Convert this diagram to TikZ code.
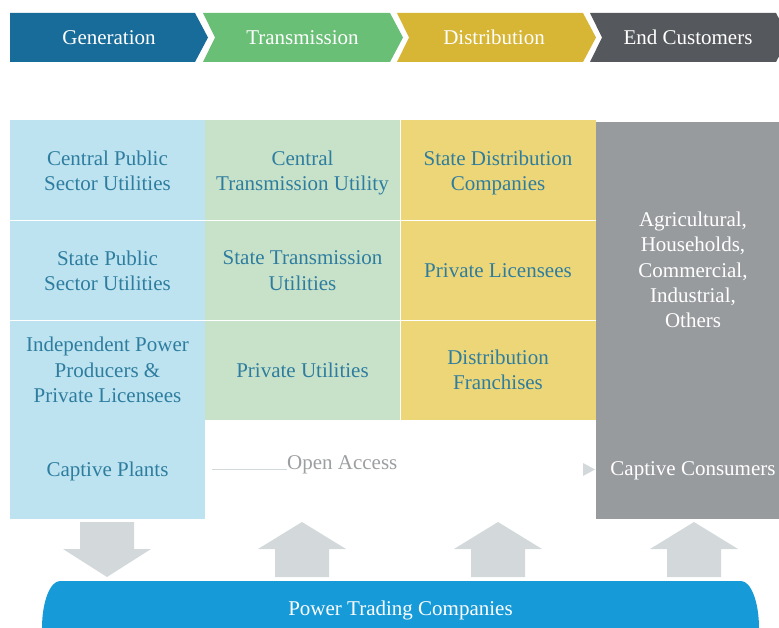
\documentclass[tikz,border=0pt]{standalone}
\usepackage{fontspec}
\setmainfont{Liberation Serif}
\definecolor{genblue}{HTML}{186C9A}
\definecolor{transgreen}{HTML}{6ABF76}
\definecolor{distyellow}{HTML}{D7B535}
\definecolor{endgray}{HTML}{55585C}
\definecolor{cellblue}{HTML}{BDE3F0}
\definecolor{cellgreen}{HTML}{C8E2CA}
\definecolor{cellyellow}{HTML}{EDD677}
\definecolor{cellgray}{HTML}{989B9E}
\definecolor{celltext}{HTML}{2E7D9F}
\definecolor{arrowgray}{HTML}{D3D9DA}
\definecolor{barblue}{HTML}{169BD8}
\definecolor{oagray}{HTML}{9C9FA1}
\tikzset{
  txt/.style={inner sep=0pt, align=center, text depth=0pt, font=\fontsize{21}{25.3}\selectfont},
  head/.style={txt, text=white},
  cell/.style={txt, text=celltext, minimum width=195pt, minimum height=100pt},
  sepline/.style={draw=white, line width=1pt},
  bigarrow/.style={fill=arrowgray},
}
\begin{document}
\begin{tikzpicture}[x=1pt,y=-1pt]
  \useasboundingbox (0,0) rectangle (779,628);

  %Header
  \fill[genblue] (10,13) -- (195,13) -- (208,37.5) -- (195,62) -- (10,62) -- cycle;
  \fill[transgreen] (203,13) -- (390,13) -- (403,37.5) -- (390,62) -- (203,62) -- (215,37.5) -- cycle;
  \fill[distyellow] (397,13) -- (583,13) -- (596,37.5) -- (583,62) -- (397,62) -- (409,37.5) -- cycle;
  \fill[endgray] (590,13) -- (776,13) -- (789,37.5) -- (776,62) -- (590,62) -- (602,37.5) -- cycle;
  \node[head] at (109,37.5)   (gen)   {Generation};
  \node[head] at (302.5,37.5) (trans) {Transmission};
  \node[head] at (494,37.5)   (dist)  {Distribution};
  \node[head] at (688,37.5)   (endc)  {End Customers};

  %Cells
  \node[cell, fill=cellblue] at (107.5,170.5) (cpsu) {Central Public\\Sector Utilities};
  \node[cell, fill=cellblue] at (107.5,270.5) (spsu) {State Public\\Sector Utilities};
  \node[cell, fill=cellblue] at (107.5,370)   (ipp)  {Independent Power\\Producers \&\\Private Licensees};
  \node[cell, fill=cellblue, minimum height=99pt] at (107.5,469.5) (cap) {Captive Plants};

  \node[cell, fill=cellgreen] at (302.5,170.5) (ctu) {Central\\Transmission Utility};
  \node[cell, fill=cellgreen] at (302.5,270.5) (stu) {State Transmission\\Utilities};
  \node[cell, fill=cellgreen] at (302.5,370)   (pu)  {Private Utilities};

  \node[cell, fill=cellyellow, minimum width=196pt] at (498,170.5) (sdc) {State Distribution\\Companies};
  \node[cell, fill=cellyellow, minimum width=196pt] at (498,270.5) (pl)  {Private Licensees};
  \node[cell, fill=cellyellow, minimum width=196pt] at (498,370)   (df)  {Distribution\\Franchises};

  \node[fill=cellgray, minimum width=194pt, minimum height=397pt, inner sep=0pt] at (693,320.5) (cust) {};
  \node[head] at (693,270) (cons) {Agricultural,\\Households,\\Commercial,\\Industrial,\\Others};
  \node[head] at (693,469) (capc) {Captive Consumers};

  %Lines
  \draw[sepline] (cpsu.south west) -- (sdc.south east);
  \draw[sepline] (spsu.south west) -- (pl.south east);
  \draw[sepline] (ctu.north east) -- (pu.south east);

  %Open access
  \node[txt, text=oagray, anchor=base west] at (287,469) (oa) {Open Access};
  \coordinate (oastart) at (212,469);
  \draw[arrowgray, line width=1pt] (oastart) -- (oa.base west);
  \fill[arrowgray] (583,463) -- (595,469.5) -- (583,476) -- cycle;

  %Arrows
  \fill[bigarrow] (80,522) -- (134,522) -- (134,549) -- (151,549) -- (107,577) -- (63,549) -- (80,549) -- cycle;
  \fill[bigarrow] (302,522) -- (346,549) -- (329,549) -- (329,577) -- (275,577) -- (275,549) -- (258,549) -- cycle;
  \fill[bigarrow] (498,522) -- (542,549) -- (525,549) -- (525,577) -- (471,577) -- (471,549) -- (454,549) -- cycle;
  \fill[bigarrow] (694,522) -- (738,549) -- (721,549) -- (721,577) -- (667,577) -- (667,549) -- (650,549) -- cycle;

  %Trading bar
  \fill[barblue] (60,581) -- (741,581) arc[start angle=-90, end angle=90, x radius=18, y radius=47]
    -- (60,675) arc[start angle=90, end angle=270, x radius=18, y radius=47] -- cycle;
  \node[head] at (400.5,608) (ptc) {Power Trading Companies};
\end{tikzpicture}
\end{document}
